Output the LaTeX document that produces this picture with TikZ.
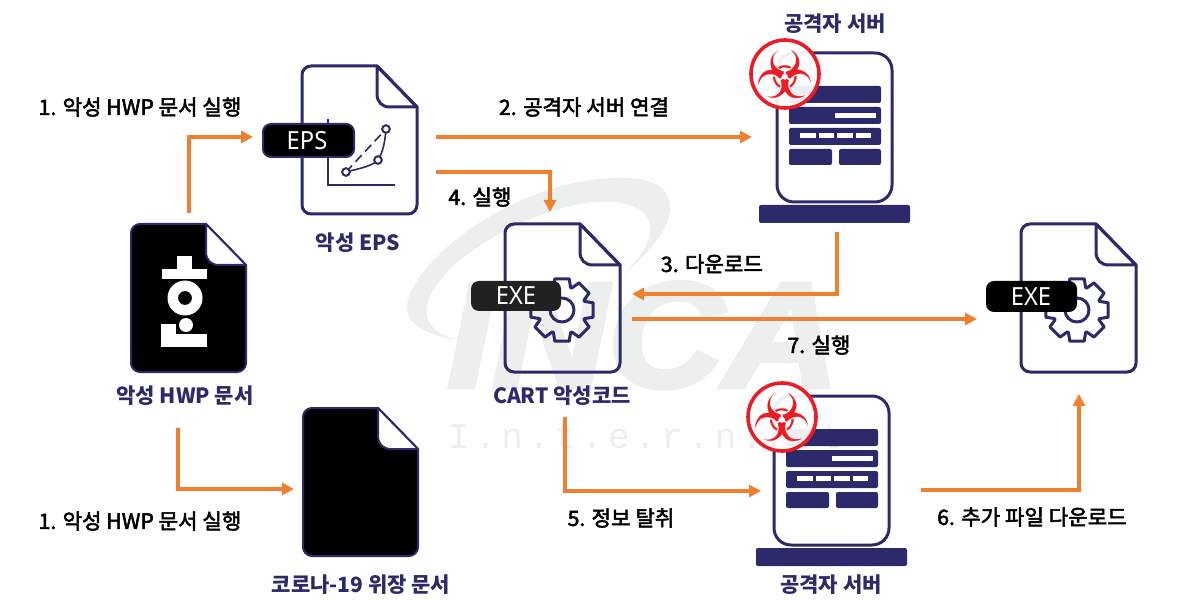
\documentclass[tikz,border=0pt]{standalone}
\usepackage{fontspec}
\setmainfont{Noto Sans CJK KR}
\newfontfamily\krmed[FakeBold=2.5]{Noto Sans CJK KR}
\newfontfamily\wmfont[BoldItalicFeatures={FakeBold=3}]{Liberation Sans}
\newfontfamily\wmmono[LetterSpace=14]{Liberation Mono}
\newfontfamily\tagfont{Noto Sans}
\newfontfamily\symfont{DejaVu Sans}
\usetikzlibrary{arrows.meta,calc}
\definecolor{navy}{HTML}{2C2A6B}
\definecolor{flow}{HTML}{F07F2F}
\definecolor{wm}{HTML}{EDEEEE}
\definecolor{bio}{HTML}{ED1C24}
\tikzset{
  x=1pt,y=-1pt,
  flowline/.style={draw=flow,line width=3.4pt,line join=miter},
  flowarrow/.style={flowline,-{Triangle[length=12pt,width=12pt]}},
  blackt/.style={font=\krmed\fontsize{21.2}{21.2}\selectfont,text=black,inner sep=0pt},
  navyt/.style={font=\fontsize{21}{21}\selectfont\bfseries,text=navy,inner sep=0pt},
  tag/.style={rounded corners=8pt,fill=black,inner sep=0pt},
  tagtext/.style={font=\tagfont\fontsize{25}{25}\selectfont,text=white,inner sep=0pt,xscale=.95},
  iconline/.style={draw=navy,line width=3pt,line join=round},
  blackdoc/.style={iconline,line width=2pt},
  pics/docfile/.style={code={
    \draw[iconline] (75,0) [rounded corners=9pt] -- (0,0) -- (0,148) -- (115,148) [sharp corners] -- (115,41) -- cycle;
    \draw[iconline] (75,0) -- (115,41) -- (88,41) .. controls (80,41) and (75,36) .. (75,28) -- cycle;
  }},
  pics/blackfile/.style={code={
    \draw[blackdoc,fill=black] (75,0) [rounded corners=9pt] -- (0,0) -- (0,148) -- (115,148) [sharp corners] -- (115,41) -- cycle;
    \draw[blackdoc,fill=white] (75,0) -- (115,41) -- (88,41) .. controls (80,41) and (75,36) .. (75,28) -- cycle;
  }},
  pics/gear/.style={code={
    \draw[iconline] (-21:24) \foreach \a in {0,45,...,315} { -- (\a-21:24) -- (\a-13:32) -- (\a+13:32) -- (\a+21:24) } -- cycle;
    \draw[iconline] (0,0) circle[radius=12];
  }},
  pics/server/.style={code={
    \draw[iconline,rounded corners=17pt] (0,0) rectangle (115,149);
    \fill[navy,rounded corners=2pt] (-18,152) rectangle (133,170);
    \fill[navy,rounded corners=2pt] (12,33) rectangle (104,50);
    \fill[navy,rounded corners=2pt] (12,54) rectangle (104,71);
    \fill[white] (58,60) rectangle (99,65);
    \fill[navy,rounded corners=2pt] (12,75) rectangle (104,92);
    \fill[white] (23,80) rectangle (39,85);
    \fill[white] (42,80) rectangle (57,85);
    \fill[white] (60,80) rectangle (76,85);
    \fill[white] (79,80) rectangle (94,85);
    \fill[navy,rounded corners=2pt] (12,96) rectangle (55,112);
    \fill[navy,rounded corners=2pt] (62,96) rectangle (104,112);
    \draw[draw=bio,line width=3.6pt,fill=white,fill opacity=.92] (8,21) circle[radius=34];
  }}
}
\begin{document}
\begin{tikzpicture}
\useasboundingbox (0,0) rectangle (1180,601);
% watermark
\fill[wm] (462,341) .. controls (420,335) and (405,320) .. (407,305) .. controls (412,260) and (520,175) .. (625,178) .. controls (655,178) and (672,190) .. (670,210) .. controls (668,235) and (640,260) .. (618,280) .. controls (650,250) and (660,225) .. (640,210) .. controls (600,185) and (510,220) .. (460,260) .. controls (420,295) and (410,330) .. (462,341) -- cycle;
\node[anchor=base west,inner sep=0pt,text=wm,xscale=1.07,font=\wmfont\fontsize{150}{150}\selectfont\bfseries\itshape] (wmlogo) at (447,387) {INCA};
\node[anchor=base west,inner sep=0pt,text=wm,font=\wmmono\fontsize{36}{36}\selectfont] (wmnet) at (448,448) {I.n.t.e.r.n.e.t};
% files
\pic at (302,66) {docfile};
\pic at (131,224) {blackfile};
\pic at (303,408) {blackfile};
\pic at (505,224) {docfile};
\pic at (1021,224) {docfile};
% EPS chart
\draw[navy,line width=1.4pt] (328,119) -- (328,185) -- (395,185);
\draw[navy,line width=1.6pt,dashed,dash pattern=on 9pt off 5pt] (346,172) -- (386,129);
\draw[navy,line width=1.6pt] (346,172) .. controls (362,168) and (372,166) .. (378,160) .. controls (383,152) and (385,142) .. (386,129);
\draw[navy,line width=2pt,fill=white] (346,172) circle[radius=3.8];
\draw[navy,line width=2pt,fill=white] (378,160) circle[radius=3.8];
\draw[navy,line width=2pt,fill=white] (386,129) circle[radius=3.8];
% HWP glyph
\fill[white] (177,256) rectangle (192,269);
\fill[white] (162,269) rectangle (207,279);
\fill[white,even odd rule] (185,298) circle[radius=17.5] (185,298) circle[radius=7];
\fill[white] (161,334) rectangle (207,347);
\fill[white] (161,324) rectangle (176,334);
\fill[white] (186,325) circle[radius=7];
% gears
\pic at (562,310) {gear};
\pic at (1077,310) {gear};
% tags
\node[tag,draw=navy,line width=2pt,minimum width=91pt,minimum height=33pt] (epstag) at (308.5,140.5) {};
\node[tagtext] (epstext) at (307,141) {EPS};
\node[tag,fill=black!87,minimum width=90pt,minimum height=30pt] (exetag1) at (516,296) {};
\node[tagtext] (exetext1) at (516,296) {EXE};
\node[tag,minimum width=91pt,minimum height=31pt] (exetag2) at (1031.5,296.5) {};
\node[tagtext] (exetext2) at (1031,297) {EXE};
% servers
\pic at (777,53) {server};
\pic at (774,396) {server};
\node[inner sep=0pt,text=bio,font=\symfont\fontsize{66}{66}\selectfont] (bio1) at (785,74) {☣};
\node[inner sep=0pt,text=bio,font=\symfont\fontsize{66}{66}\selectfont] (bio2) at (782,417) {☣};
% labels
\node[navyt] (lsrv1) at (835,24) {공격자 서버};
\node[blackt] (l1a) at (140,107) {1. 악성 HWP 문서 실행};
\node[blackt] (l2) at (584,107) {2. 공격자 서버 연결};
\node[navyt] (leps) at (358,243) {악성 EPS};
\node[blackt] (l4) at (480,197) {4. 실행};
\node[blackt] (l3) at (712,264) {3. 다운로드};
\node[blackt] (l7) at (819,345) {7. 실행};
\node[navyt] (lhwp) at (185,396) {악성 HWP 문서};
\node[navyt] (lcart) at (562,396) {CART 악성코드};
\node[blackt] (l1b) at (140,521) {1. 악성 HWP 문서 실행};
\node[blackt] (l5) at (621,518) {5. 정보 탈취};
\node[blackt] (l6) at (1032,517) {6. 추가 파일 다운로드};
\node[navyt] (lcov) at (361,585) {코로나-19 위장 문서};
\node[navyt] (lsrv2) at (831,585) {공격자 서버};
% connector ends
\coordinate (a1s) at (189,213); \coordinate (a1m) at (189,137); \coordinate (a1e) at (253,137);
\coordinate (a2s) at (436,137); \coordinate (a2e) at (752,137);
\coordinate (a3s) at (436,172); \coordinate (a3m) at (550,172); \coordinate (a3e) at (550,212);
\coordinate (a4s) at (837,232); \coordinate (a4m) at (837,294); \coordinate (a4e) at (632,294);
\coordinate (a5s) at (632,319); \coordinate (a5e) at (977,319);
\coordinate (a6s) at (565,417); \coordinate (a6m) at (565,491); \coordinate (a6e) at (761,491);
\coordinate (a7s) at (921,490); \coordinate (a7m) at (1079,490); \coordinate (a7e) at (1079,394);
\coordinate (a8s) at (178,428); \coordinate (a8m) at (178,489); \coordinate (a8e) at (294,489);
\draw[flowarrow] (a1s) -- (a1m) -- (a1e);
\draw[flowarrow] (a2s) -- (a2e);
\draw[flowarrow] (a3s) -- (a3m) -- (a3e);
\draw[flowarrow] (a4s) -- (a4m) -- (a4e);
\draw[flowarrow] (a5s) -- (a5e);
\draw[flowarrow] (a6s) -- (a6m) -- (a6e);
\draw[flowarrow] (a7s) -- (a7m) -- (a7e);
\draw[flowarrow] (a8s) -- (a8m) -- (a8e);
\end{tikzpicture}
\end{document}
